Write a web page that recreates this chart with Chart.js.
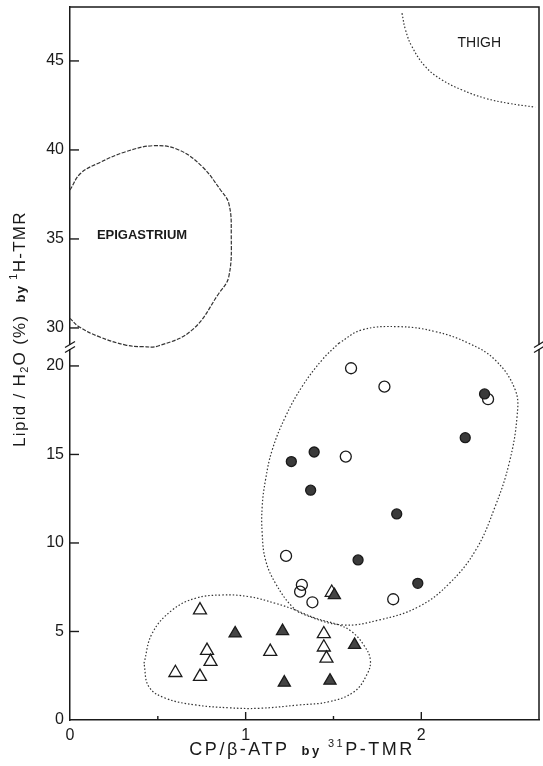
<!DOCTYPE html>
<html>
<head>
<meta charset="utf-8">
<script src="https://cdn.jsdelivr.net/npm/chart.js@4.4.1/dist/chart.umd.min.js"></script>
<style>
  html, body { margin: 0; padding: 0; background: #fff; }
</style>
</head>
<body>
<canvas id="chart" width="543" height="766"></canvas>
<script>
// Marker groups (x = CP/beta-ATP, y = lipid/H2O %)
const openCircleX = [1.60, 1.79, 2.38, 1.57, 1.23, 1.32, 1.31, 1.38, 1.84];
const openCircleY = [19.87, 18.83, 18.12, 14.88, 9.27, 7.63, 7.25, 6.65, 6.82];
const filledCircleX = [2.36, 2.25, 1.26, 1.39, 1.37, 1.86, 1.64, 1.98];
const filledCircleY = [18.42, 15.95, 14.6, 15.14, 12.98, 11.64, 9.04, 7.72];
const openTriX = [0.74, 0.78, 0.80, 0.60, 0.74, 1.14, 1.445, 1.445, 1.46, 1.49];
const openTriY = [6.21, 3.92, 3.30, 2.67, 2.45, 3.86, 4.86, 4.11, 3.48, 7.2];
const filledTriX = [0.94, 1.21, 1.62, 1.22, 1.48, 1.505];
const filledTriY = [4.89, 5.02, 4.24, 2.11, 2.22, 7.05];

// Region outlines
const upperLoopX = [1.53, 1.66, 1.87, 2.08, 2.27, 2.42, 2.535, 2.545, 2.50, 2.42, 2.31, 2.16, 1.985, 1.76, 1.55, 1.34, 1.265, 1.17, 1.113, 1.094, 1.094, 1.113, 1.151, 1.227, 1.321, 1.435, 1.53];
const upperLoopY = [21.28, 22.03, 22.22, 21.94, 21.28, 20.34, 18.64, 17.14, 14.5, 12.05, 9.6, 7.72, 6.4, 5.65, 5.37, 5.93, 6.4, 7.72, 9.04, 10.55, 12.05, 13.56, 15.25, 17.14, 18.83, 20.34, 21.28];
const lowerLoopX = [0.421, 0.468, 0.582, 0.715, 0.866, 1.018, 1.17, 1.284, 1.398, 1.53, 1.604, 1.672, 1.71, 1.689, 1.615, 1.473, 1.303, 1.075, 0.904, 0.715, 0.544, 0.449, 0.421];
const lowerLoopY = [3.2, 4.9, 6.21, 6.88, 7.06, 6.97, 6.59, 6.21, 5.75, 5.37, 4.99, 4.24, 3.39, 2.54, 1.58, 1.03, 0.85, 0.66, 0.69, 0.85, 1.23, 1.88, 3.2];
const epiX = [0, 0.061, 0.165, 0.317, 0.478, 0.62, 0.753, 0.857, 0.904, 0.918, 0.904, 0.848, 0.696, 0.506, 0.411, 0.317, 0.165, 0.051, 0];
const epiY = [37.75, 38.69, 39.27, 39.9, 40.24, 40.0, 39.06, 37.75, 37.0, 35.32, 32.88, 31.95, 29.89, 29.0, 28.95, 29.04, 29.51, 30.07, 30.54];
const thighX = [1.89, 1.91, 1.947, 2.023, 2.118, 2.232, 2.365, 2.497, 2.649];
const thighY = [47.68, 46.74, 45.8, 44.68, 43.93, 43.37, 42.9, 42.62, 42.4];

// Tick values
const xTicks = [0, 0.5, 1, 1.5, 2];
const yLowTicks = [0, 5, 10, 15, 20];
const yHighTicks = [30, 35, 40, 45];

const regionLabels = [
  { text: 'EPIGASTRIUM', x: 0.41, y: 35.2, font: 'bold 13px "Liberation Sans", Arial, sans-serif' },
  { text: 'THIGH', x: 2.33, y: 46.0, font: '14px "Liberation Sans", Arial, sans-serif' }
];

const FONT = '"Liberation Sans", Arial, sans-serif';
const INK = '#1a1a1a';

function pts(xs, ys) {
  return xs.map((x, i) => ({ x, y: ys[i] }));
}

function markers(label, xs, ys, style, radius, fill, axis) {
  return {
    label, data: pts(xs, ys), yAxisID: axis || 'yLow',
    pointStyle: style, pointRadius: radius,
    pointBackgroundColor: fill, pointBorderColor: INK, pointBorderWidth: 1.3,
    showLine: false, clip: false
  };
}

function outline(label, xs, ys, axis, dash) {
  return {
    label, data: pts(xs, ys), yAxisID: axis,
    showLine: true, pointRadius: 0, borderColor: '#333', borderWidth: 1.2,
    borderDash: dash, tension: 0.4, fill: false, clip: false
  };
}

function drawRich(ctx, parts, cx, baseline, spacing) {
  ctx.letterSpacing = spacing + 'px';
  let total = 0;
  parts.forEach(p => { ctx.font = p.f; p.w = ctx.measureText(p.t).width; total += p.w; });
  let x = cx - total / 2;
  ctx.textAlign = 'left';
  ctx.textBaseline = 'alphabetic';
  parts.forEach(p => {
    ctx.font = p.f;
    ctx.fillText(p.t, x, baseline + (p.dy || 0));
    x += p.w;
  });
  ctx.letterSpacing = '0px';
}

// Frame, inward ticks, axis breaks, titles and region names
const decorations = {
  id: 'decorations',
  afterDraw(chart) {
    const { ctx, chartArea: a, scales } = chart;
    const x = scales.x, lo = scales.yLow, hi = scales.yHigh;
    ctx.save();
    ctx.strokeStyle = INK;
    ctx.fillStyle = INK;

    // top and right frame
    ctx.lineWidth = 1.5;
    ctx.beginPath();
    ctx.moveTo(a.left, a.top);
    ctx.lineTo(a.right, a.top);
    ctx.lineTo(a.right, a.bottom);
    ctx.stroke();

    // inward ticks
    ctx.lineWidth = 1.4;
    x.ticks.forEach(t => {
      if (t.value === 0) return;
      const px = x.getPixelForValue(t.value);
      const len = Number.isInteger(t.value) ? 8 : 4;
      ctx.beginPath();
      ctx.moveTo(px, a.bottom);
      ctx.lineTo(px, a.bottom - len);
      ctx.stroke();
    });
    [lo, hi].forEach(s => {
      s.ticks.forEach(t => {
        if (t.value === 0) return;
        const py = s.getPixelForValue(t.value);
        ctx.beginPath();
        ctx.moveTo(a.left, py);
        ctx.lineTo(a.left + 9, py);
        ctx.stroke();
      });
    });

    // axis breaks
    const b = lo.top;
    [a.left, a.right].forEach(bx => {
      ctx.fillStyle = '#fff';
      ctx.fillRect(bx - 2, b - 2, 4, 4);
      ctx.strokeStyle = INK;
      ctx.lineWidth = 1.3;
      [-2.5, 2.5].forEach(off => {
        ctx.beginPath();
        ctx.moveTo(bx - 5, b + off + 3);
        ctx.lineTo(bx + 5, b + off - 3);
        ctx.stroke();
      });
    });

    // region names
    ctx.fillStyle = INK;
    ctx.textAlign = 'center';
    ctx.textBaseline = 'middle';
    regionLabels.forEach(r => {
      ctx.font = r.font;
      ctx.fillText(r.text, x.getPixelForValue(r.x), hi.getPixelForValue(r.y));
    });

    // x title
    drawRich(ctx, [
      { t: 'CP/β-ATP', f: '18px ' + FONT },
      { t: '  by ', f: 'bold 13px ' + FONT },
      { t: '31', f: '11px ' + FONT, dy: -8 },
      { t: 'P-TMR', f: '18px ' + FONT }
    ], 302, 755, 2.5);

    // y title
    ctx.translate(25, 329);
    ctx.rotate(-Math.PI / 2);
    drawRich(ctx, [
      { t: 'Lipid / H', f: '17px ' + FONT },
      { t: '2', f: '11px ' + FONT, dy: 3 },
      { t: 'O (%)  ', f: '17px ' + FONT },
      { t: 'by ', f: 'bold 13px ' + FONT },
      { t: '1', f: '11px ' + FONT, dy: -8 },
      { t: 'H-TMR', f: '17px ' + FONT }
    ], 0, 0, 1.3);
    ctx.restore();
  }
};

const tickFont = { family: FONT, size: 16 };

function setTicks(values) {
  return axis => { axis.ticks = values.map(v => ({ value: v })); };
}

function yAxis(min, max, weight, values) {
  return {
    type: 'linear', position: 'left', stack: 'y', stackWeight: weight,
    min, max,
    grid: { display: false, drawTicks: false },
    border: { display: true, color: INK, width: 1.5 },
    ticks: { color: INK, font: tickFont, padding: 6 },
    afterBuildTicks: setTicks(values),
    afterFit: axis => {
      axis.width = 70;
      axis.paddingTop = 0;
      axis.paddingBottom = 0;
    }
  };
}

new Chart(document.getElementById('chart'), {
  type: 'scatter',
  data: {
    datasets: [
      markers('filled circle', filledCircleX, filledCircleY, 'circle', 5, '#3a3a3a'),
      markers('filled triangle', filledTriX, filledTriY, 'triangle', 7, '#444'),
      markers('open triangle', openTriX, openTriY, 'triangle', 7.5, 'rgba(255,255,255,0)'),
      markers('open circle', openCircleX, openCircleY, 'circle', 5.5, 'rgba(255,255,255,0)'),
      outline('upper group', upperLoopX, upperLoopY, 'yLow', [1.5, 2]),
      outline('lower group', lowerLoopX, lowerLoopY, 'yLow', [1.5, 2]),
      outline('epigastrium', epiX, epiY, 'yHigh', [4, 1.5]),
      outline('thigh', thighX, thighY, 'yHigh', [1.5, 2])
    ]
  },
  options: {
    responsive: false,
    animation: false,
    events: [],
    layout: { autoPadding: false, padding: { top: 7, right: 4, left: 0, bottom: 0 } },
    plugins: { legend: { display: false }, tooltip: { enabled: false } },
    scales: {
      x: {
        type: 'linear', min: 0, max: 2.67,
        grid: { display: false, drawTicks: false },
        border: { display: true, color: INK, width: 1.5 },
        ticks: {
          color: INK, font: tickFont, padding: 6, maxRotation: 0,
          callback: v => Number.isInteger(v) ? String(v) : ''
        },
        afterBuildTicks: setTicks(xTicks),
        afterFit: axis => {
          axis.height = 46;
          axis.paddingLeft = 0;
          axis.paddingRight = 0;
        }
      },
      // stacked axes are placed bottom-up in the order listed
      yLow: yAxis(0, 21.07, 373, yLowTicks),
      yHigh: yAxis(28.93, 48.03, 340, yHighTicks)
    }
  },
  plugins: [decorations]
});
</script>
</body>
</html>
